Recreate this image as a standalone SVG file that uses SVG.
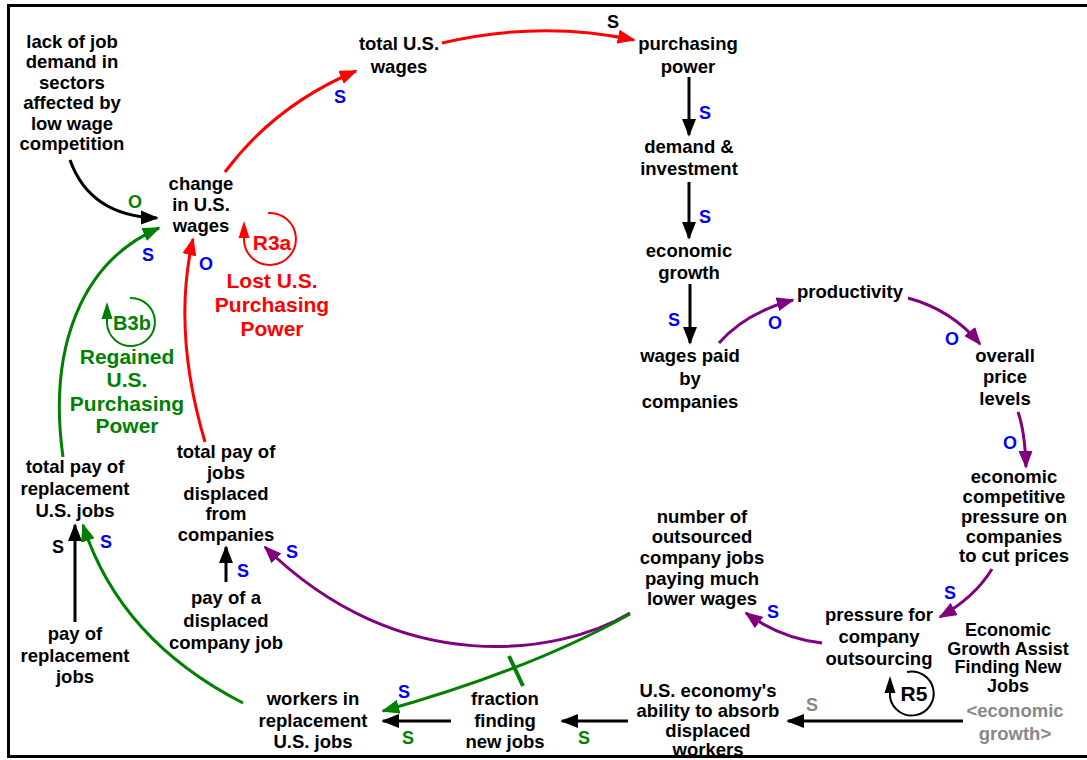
<svg xmlns="http://www.w3.org/2000/svg" width="1087" height="760" viewBox="0 0 1087 760">
<style>
  text { font-family: "Liberation Sans", Arial, sans-serif; font-weight: bold; text-anchor: middle; }
  .n { font-size: 18.5px; fill: #000; }
  .pol { font-size: 18px; }
  .blue { fill: #0000ff; }
  .grn { fill: #008000; }
  .blk { fill: #000; }
  .gry { fill: #888888; }
  .red { fill: #ff0000; }
  .c { fill: none; stroke-width: 3; }
  .ck { stroke: #000; }
  .cr { stroke: #ff0000; }
  .cg { stroke: #008000; }
  .cp { stroke: #800080; }
  .loop { font-size: 21px; }
  .lc { fill: none; stroke-width: 2; }
</style>
<defs>
  <marker id="ak" viewBox="0 0 10 10" preserveAspectRatio="none" refX="9" refY="5" markerWidth="6" markerHeight="4.7" orient="auto" markerUnits="strokeWidth"><path d="M0,0 L10,5 L0,10 z" fill="#000"/></marker>
  <marker id="ar" viewBox="0 0 10 10" preserveAspectRatio="none" refX="9" refY="5" markerWidth="6" markerHeight="4.7" orient="auto" markerUnits="strokeWidth"><path d="M0,0 L10,5 L0,10 z" fill="#ff0000"/></marker>
  <marker id="ag" viewBox="0 0 10 10" preserveAspectRatio="none" refX="9" refY="5" markerWidth="6" markerHeight="4.7" orient="auto" markerUnits="strokeWidth"><path d="M0,0 L10,5 L0,10 z" fill="#008000"/></marker>
  <marker id="ap" viewBox="0 0 10 10" preserveAspectRatio="none" refX="9" refY="5" markerWidth="6" markerHeight="4.7" orient="auto" markerUnits="strokeWidth"><path d="M0,0 L10,5 L0,10 z" fill="#800080"/></marker>
</defs>

<rect x="8.5" y="5.5" width="1090" height="751" fill="none" stroke="#000" stroke-width="3"/>

<g id="connectors">
  <path class="c ck" d="M70,160 Q90,216 157,218" marker-end="url(#ak)"/>
  <path class="c cr" d="M225,172 Q275,105 356,71" marker-end="url(#ar)"/>
  <path class="c cr" d="M442,43 Q540,20 634,40" marker-end="url(#ar)"/>
  <path class="c ck" d="M689,77 L689,135" marker-end="url(#ak)"/>
  <path class="c ck" d="M689,182 L689,238" marker-end="url(#ak)"/>
  <path class="c ck" d="M690,284 L690,343" marker-end="url(#ak)"/>
  <path class="c cp" d="M719,343 Q745,313 793,300" marker-end="url(#ap)"/>
  <path class="c cp" d="M908,298 Q952,310 980,344" marker-end="url(#ap)"/>
  <path class="c cp" d="M1018,412 Q1025,432 1026,467" marker-end="url(#ap)"/>
  <path class="c cp" d="M992,569 Q975,597 940,617" marker-end="url(#ap)"/>
  <path class="c cp" d="M822,643 Q780,638 746,613" marker-end="url(#ap)"/>
  <path class="c cp" d="M630,613 C560,655 400,680 265,547" marker-end="url(#ap)"/>
  <path class="c cg" d="M630,614 Q530,670 383,711" marker-end="url(#ag)"/>
  <line x1="509" y1="656" x2="523" y2="686" stroke="#008000" stroke-width="4"/>
  <path class="c cg" d="M243,703 Q120,640 83,525" marker-end="url(#ag)"/>
  <path class="c ck" d="M75,622 L75,525" marker-end="url(#ak)"/>
  <path class="c cg" d="M63,457 C48,350 80,262 159,228" marker-end="url(#ag)"/>
  <path class="c cr" d="M205,442 Q172,330 193,239" marker-end="url(#ar)"/>
  <path class="c ck" d="M226,582 L226,547" marker-end="url(#ak)"/>
  <path class="c ck" d="M628,721 L562,721" marker-end="url(#ak)"/>
  <path class="c ck" d="M451,721 L383,721" marker-end="url(#ak)"/>
  <path class="c ck" d="M963,721 L788,721" marker-end="url(#ak)"/>

  <g id="polarities" class="pol">
    <text x="613" y="28" class="blk">S</text>
    <text x="340" y="103" class="blue">S</text>
    <text x="705" y="119" class="blue">S</text>
    <text x="705" y="223" class="blue">S</text>
    <text x="674" y="326" class="blue">S</text>
    <text x="775" y="329" class="blue">O</text>
    <text x="952" y="345" class="blue">O</text>
    <text x="1010" y="449" class="blue">O</text>
    <text x="950" y="599" class="blue">S</text>
    <text x="773" y="618" class="blue">S</text>
    <text x="812" y="711" class="gry">S</text>
    <text x="584" y="744" class="grn">S</text>
    <text x="408" y="744" class="grn">S</text>
    <text x="404" y="698" class="blue">S</text>
    <text x="292" y="558" class="blue">S</text>
    <text x="243" y="577" class="blue">S</text>
    <text x="106" y="548" class="blue">S</text>
    <text x="58" y="553" class="blk">S</text>
    <text x="148" y="261" class="blue">S</text>
    <text x="206" y="270" class="blue">O</text>
    <text x="135" y="208" class="grn">O</text>
  </g>
</g>

<g id="loop-R3a">
  <path class="lc" d="M268,213 A26,26 0 1 1 244,241 L244,236" stroke="#ff0000"/>
  <polygon points="244,221 238.5,238 249.5,238" fill="#ff0000"/>
  <text x="272" y="250" class="loop red">R3a</text>
  <text class="loop red"><tspan x="272" y="288">Lost U.S.</tspan><tspan x="272" y="312">Purchasing</tspan><tspan x="272" y="336">Power</tspan></text>
</g>
<g id="loop-B3b">
  <path class="lc" d="M130,298 A24,24 0 1 1 107,324 L107,318" stroke="#008000"/>
  <polygon points="107,302 101.5,319 112.5,319" fill="#008000"/>
  <text x="132" y="330" class="grn" style="font-size:20px">B3b</text>
  <text class="loop grn"><tspan x="127" y="364">Regained</tspan><tspan x="127" y="387">U.S.</tspan><tspan x="127" y="411">Purchasing</tspan><tspan x="127" y="433">Power</tspan></text>
</g>
<g id="loop-R5">
  <path class="lc" d="M907,672 A22,22 0 1 1 890,697 L890,692" stroke="#000"/>
  <polygon points="890,676 884.5,693 895.5,693" fill="#000"/>
  <text x="914" y="701" class="loop blk">R5</text>
</g>

<g id="node-lack"><text class="n"><tspan x="72" y="48">lack of job</tspan><tspan x="72" y="68">demand in</tspan><tspan x="72" y="89">sectors</tspan><tspan x="72" y="109">affected by</tspan><tspan x="72" y="130">low wage</tspan><tspan x="72" y="150">competition</tspan></text></g>
<g id="node-change"><text class="n"><tspan x="201" y="190">change</tspan><tspan x="201" y="211">in U.S.</tspan><tspan x="201" y="232">wages</tspan></text></g>
<g id="node-totalwages"><text class="n"><tspan x="399" y="50">total U.S.</tspan><tspan x="399" y="73">wages</tspan></text></g>
<g id="node-purchasing"><text class="n"><tspan x="688" y="50">purchasing</tspan><tspan x="688" y="73">power</tspan></text></g>
<g id="node-demand"><text class="n"><tspan x="689" y="153">demand &amp;</tspan><tspan x="689" y="175">investment</tspan></text></g>
<g id="node-econgrowth"><text class="n"><tspan x="689" y="257">economic</tspan><tspan x="689" y="279">growth</tspan></text></g>
<g id="node-wagespaid"><text class="n"><tspan x="690" y="362">wages paid</tspan><tspan x="690" y="385">by</tspan><tspan x="690" y="408">companies</tspan></text></g>
<g id="node-productivity"><text class="n" x="850" y="298">productivity</text></g>
<g id="node-overall"><text class="n"><tspan x="1005" y="362">overall</tspan><tspan x="1005" y="383">price</tspan><tspan x="1005" y="405">levels</tspan></text></g>
<g id="node-econcomp"><text class="n"><tspan x="1014" y="483">economic</tspan><tspan x="1014" y="503">competitive</tspan><tspan x="1014" y="523">pressure on</tspan><tspan x="1014" y="543">companies</tspan><tspan x="1014" y="562">to cut prices</tspan></text></g>
<g id="node-pressure"><text class="n"><tspan x="879" y="621">pressure for</tspan><tspan x="879" y="643">company</tspan><tspan x="879" y="665">outsourcing</tspan></text></g>
<g id="node-outsourced"><text class="n"><tspan x="702" y="523">number of</tspan><tspan x="702" y="543">outsourced</tspan><tspan x="702" y="564">company jobs</tspan><tspan x="702" y="585">paying much</tspan><tspan x="702" y="605">lower wages</tspan></text></g>
<g id="node-egafnj"><text class="n" style="font-size:18px"><tspan x="1008" y="636">Economic</tspan><tspan x="1008" y="654.5">Growth Assist</tspan><tspan x="1008" y="673">Finding New</tspan><tspan x="1008" y="691.5">Jobs</tspan></text></g>
<g id="node-econgrowth-shadow"><text class="n gry"><tspan x="1015" y="717">&lt;economic</tspan><tspan x="1015" y="740">growth&gt;</tspan></text></g>
<g id="node-ability"><text class="n"><tspan x="708" y="697">U.S. economy's</tspan><tspan x="708" y="717">ability to absorb</tspan><tspan x="708" y="737">displaced</tspan><tspan x="708" y="756">workers</tspan></text></g>
<g id="node-fraction"><text class="n"><tspan x="505" y="705">fraction</tspan><tspan x="505" y="727">finding</tspan><tspan x="505" y="748">new jobs</tspan></text></g>
<g id="node-workers"><text class="n"><tspan x="313" y="705">workers in</tspan><tspan x="313" y="727">replacement</tspan><tspan x="313" y="748">U.S. jobs</tspan></text></g>
<g id="node-payrepl"><text class="n"><tspan x="75" y="640">pay of</tspan><tspan x="75" y="662">replacement</tspan><tspan x="75" y="683">jobs</tspan></text></g>
<g id="node-totalrepl"><text class="n"><tspan x="75" y="473">total pay of</tspan><tspan x="75" y="495">replacement</tspan><tspan x="75" y="517">U.S. jobs</tspan></text></g>
<g id="node-totaldisp"><text class="n"><tspan x="226" y="458">total pay of</tspan><tspan x="226" y="479">jobs</tspan><tspan x="226" y="500">displaced</tspan><tspan x="226" y="520">from</tspan><tspan x="226" y="541">companies</tspan></text></g>
<g id="node-paydisp"><text class="n"><tspan x="226" y="604">pay of a</tspan><tspan x="226" y="627">displaced</tspan><tspan x="226" y="649">company job</tspan></text></g>
</svg>
